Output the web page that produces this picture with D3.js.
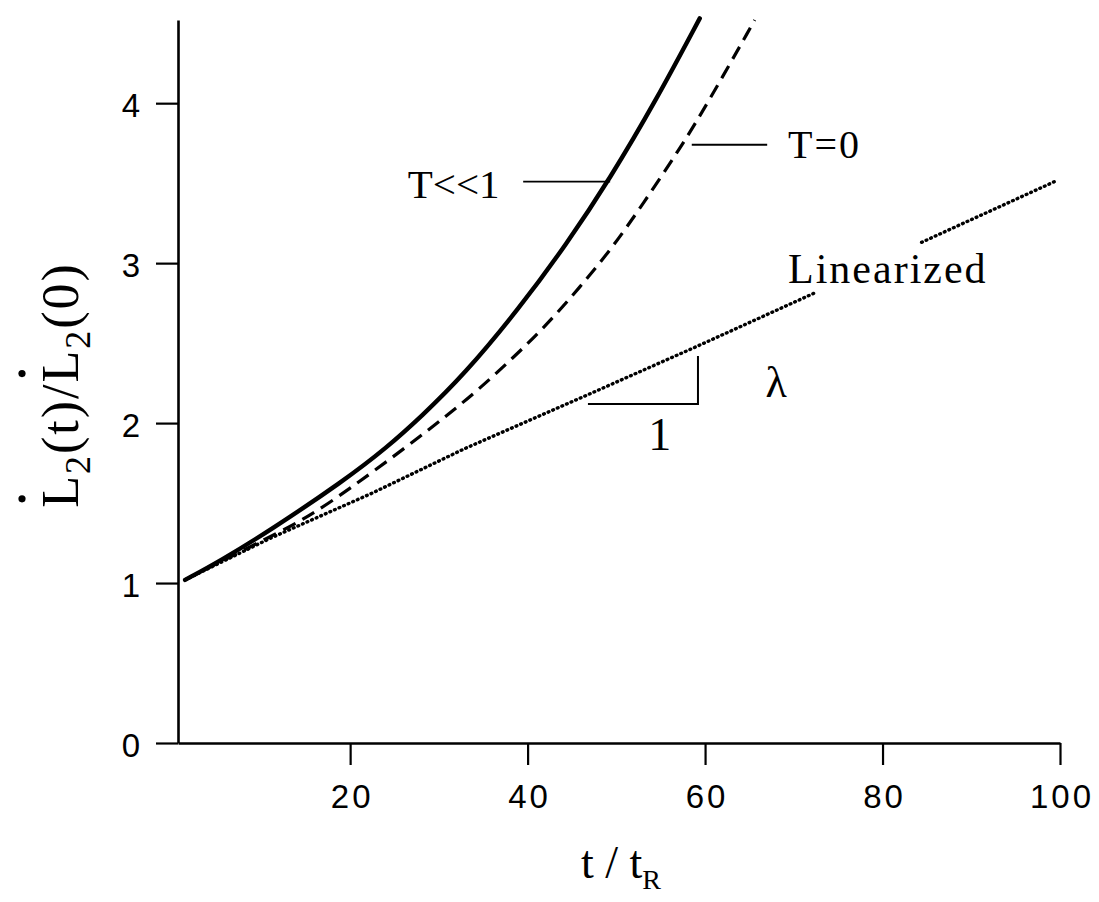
<!DOCTYPE html>
<html>
<head>
<meta charset="utf-8">
<script src="https://cdn.jsdelivr.net/npm/d3@7"></script>
<style>
  html, body { margin: 0; padding: 0; background: #fff; }
  svg { display: block; }
</style>
</head>
<body>
<svg id="chart" width="1099" height="902"></svg>
<script>
// ---- data ----
const xTicks = [20, 40, 60, 80, 100];
const yTicks = [0, 1, 2, 3, 4];

// T<<1 (solid)
const solidT = [1.4, 5.4, 11, 19.3, 24.2, 28, 32.8, 39.1, 44.4, 49.3, 54.5, 59.4];
const solidV = [1.02, 1.14, 1.33, 1.64, 1.85, 2.04, 2.30, 2.72, 3.12, 3.53, 4.02, 4.53];

// T=0 (dashed)
const dashT = [1.4, 11, 15.2, 20, 26.8, 30.5, 34.3, 38.4, 42.1, 45.9, 49.6, 53.0, 57.1, 60.3, 65.6];
const dashV = [1.02, 1.29, 1.41, 1.59, 1.87, 2.03, 2.20, 2.41, 2.61, 2.85, 3.10, 3.37, 3.71, 4.0, 4.52];

// Linearized (dotted), interrupted by its label
const linAT = [1.4, 11, 22.4, 32.9, 46.7, 59.1, 72.6];
const linAV = [1.02, 1.28, 1.56, 1.84, 2.175, 2.48, 2.82];
const linBT = [84.4, 99.4];
const linBV = [3.13, 3.51];

// ---- layout ----
const svg = d3.select("#chart");
const x = d3.scaleLinear().domain([0.6, 100]).range([178, 1060]);
const y = d3.scaleLinear().domain([0, 4.52]).range([743, 20]);

const serif = "'Liberation Serif', 'Times New Roman', serif";
const sans = "'Liberation Sans', Arial, Helvetica, sans-serif";

// axes
const xAxis = d3.axisBottom(x).tickValues(xTicks).tickFormat(d3.format("d"))
  .tickSize(22).tickSizeOuter(0).tickPadding(20);
const yAxis = d3.axisLeft(y).tickValues(yTicks).tickFormat(d3.format("d"))
  .tickSize(22).tickSizeOuter(0).tickPadding(16);

const gx = svg.append("g").attr("transform", `translate(0,${y(0)})`).call(xAxis);
const gy = svg.append("g").attr("transform", `translate(${x(0.6)},0)`).call(yAxis);

[gx, gy].forEach(g => {
  g.select(".domain").attr("stroke", "#000").attr("stroke-width", 2.6);
  g.selectAll(".tick line").attr("stroke", "#000").attr("stroke-width", 2.2);
  g.selectAll(".tick text")
    .attr("fill", "#000")
    .style("font-family", sans)
    .style("font-size", "33px");
});
gy.selectAll(".tick text").attr("dy", "0.4em");
gx.selectAll(".tick text").style("letter-spacing", "3px").attr("dx", "1.5");

// lines
const line = d3.line().x(d => x(d[0])).y(d => y(d[1])).curve(d3.curveBasis);
const lineLin = d3.line().x(d => x(d[0])).y(d => y(d[1]));
const zip = (a, b) => a.map((v, i) => [v, b[i]]);

svg.append("path").datum(zip(dashT, dashV))
  .attr("d", line).attr("fill", "none").attr("stroke", "#000")
  .attr("stroke-width", 3.2).attr("stroke-dasharray", "14,8");

svg.append("path").datum(zip(solidT, solidV))
  .attr("d", line).attr("fill", "none").attr("stroke", "#000")
  .attr("stroke-width", 4.4).attr("stroke-linecap", "round");

[zip(linAT, linAV), zip(linBT, linBV)].forEach(seg => {
  svg.append("path").datum(seg)
    .attr("d", lineLin).attr("fill", "none").attr("stroke", "#000")
    .attr("stroke-width", 3.4).attr("stroke-linecap", "round")
    .attr("stroke-dasharray", "0.8,4.2");
});

// annotations
function leader(t0, t1, v) {
  svg.append("line")
    .attr("x1", x(t0)).attr("x2", x(t1)).attr("y1", y(v)).attr("y2", y(v))
    .attr("stroke", "#000").attr("stroke-width", 1.8);
}
function label(txt, t, v, size, anchor, spacing) {
  return svg.append("text")
    .attr("x", x(t)).attr("y", y(v))
    .attr("text-anchor", anchor || "start")
    .style("font-family", serif).style("font-size", size + "px")
    .style("letter-spacing", (spacing || 0) + "px")
    .attr("fill", "#000").text(txt);
}

label("T<<1", 26.5, 3.41, 41);
leader(39.5, 49.3, 3.51);
label("T=0", 69.35, 3.66, 40, "start", 2);
leader(58.5, 67.0, 3.74);
label("Linearized", 69.35, 2.875, 42, "start", 2);

// slope triangle
svg.append("path")
  .attr("d", `M${x(46.8)},${y(2.12)} L${x(59.2)},${y(2.12)} L${x(59.2)},${y(2.42)}`)
  .attr("fill", "none").attr("stroke", "#000").attr("stroke-width", 2);
label("λ", 66.8, 2.16, 44);
label("1", 54.9, 1.83, 46, "middle");

// x axis title
const xt = svg.append("text")
  .attr("x", 621).attr("y", 878)
  .attr("text-anchor", "middle")
  .style("font-family", serif).style("font-size", "46px").attr("fill", "#000");
xt.append("tspan").text("t / t");
xt.append("tspan").attr("dy", 11).style("font-size", "28px").text("R");

// y axis title (rotated)
const gyt = svg.append("g").attr("transform", "translate(78,385) rotate(-90)");
const yt = gyt.append("text")
  .attr("x", 0).attr("y", 0).attr("text-anchor", "middle")
  .style("font-family", serif).style("font-size", "52px")
  .style("letter-spacing", "2px").attr("fill", "#000");
yt.append("tspan").text("L");
yt.append("tspan").attr("dy", 12).style("font-size", "36px").text("2");
yt.append("tspan").attr("dy", -12).text("(t)/L");
yt.append("tspan").attr("dy", 12).style("font-size", "36px").text("2");
yt.append("tspan").attr("dy", -12).text("(0)");

// dots over the two L's
const node = yt.node();
[0, 6].forEach(i => {
  let cx;
  try {
    const ext = node.getExtentOfChar(i);
    cx = ext.x + 9;
  } catch (e) {
    cx = i === 0 ? -115 : 15;
  }
  gyt.append("circle").attr("cx", cx).attr("cy", -56).attr("r", 3.6).attr("fill", "#000");
});
</script>
</body>
</html>
